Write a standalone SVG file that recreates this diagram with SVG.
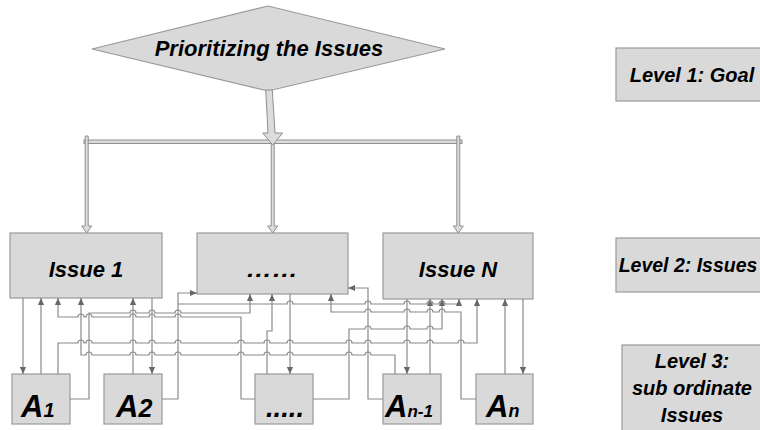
<svg xmlns="http://www.w3.org/2000/svg" width="760" height="430" viewBox="0 0 760 430">
<style>
.box{fill:#d9d9d9;stroke:#9a9a9a;stroke-width:1.2}
.t{font-family:"Liberation Sans",Arial,sans-serif;font-weight:bold;font-style:italic;fill:#000}
.c{fill:none;stroke:#8a8a8a;stroke-width:1.2}
.a{marker-end:url(#ah)}
.hol{fill:#dcdcdc;stroke:#8f8f8f;stroke-width:1}
</style>
<defs>
<marker id="ah" viewBox="0 0 8 8" refX="8" refY="4" markerWidth="7" markerHeight="7" markerUnits="userSpaceOnUse" orient="auto">
<path d="M0,0.5 L8,4 L0,7.5 z" fill="#686868"/>
</marker>
</defs>
<rect width="760" height="430" fill="#fff"/>

<g id="goal">
<polygon class="box" points="92,49 268,6 445,49 268,91"/>
<text class="t" x="269" y="56" font-size="22" text-anchor="middle">Prioritizing the Issues</text>
</g>

<g id="top-arrows">
<rect class="hol" x="84" y="140" width="378" height="3.5"/>
<polygon class="hol" points="85.2,136 88.2,136 88.2,226 91.7,226 86.7,233 81.7,226 85.2,226"/>
<polygon class="hol" points="271.2,136 274.2,136 274.2,226 277.7,226 272.7,233 267.7,226 271.2,226"/>
<polygon class="hol" points="456.8,136 459.8,136 459.8,226 463.3,226 458.3,233 453.3,226 456.8,226"/>
<polygon class="hol" points="265.7,90 272.3,90 275,133 282.7,133 272.7,145 262.7,133 268,133"/>
</g>

<g id="issue1">
<rect class="box" x="10" y="233" width="152" height="65"/>
<text class="t" x="86" y="277" font-size="22" text-anchor="middle">Issue 1</text>
</g>
<g id="issue-mid">
<rect class="box" x="197" y="233" width="151" height="61"/>
<text class="t" x="272" y="277" font-size="22" text-anchor="middle" textLength="52" lengthAdjust="spacingAndGlyphs">……</text>
</g>
<g id="issueN">
<rect class="box" x="383" y="233" width="150" height="66"/>
<text class="t" x="458" y="277" font-size="22" text-anchor="middle">Issue N</text>
</g>

<g id="a1">
<rect class="box" x="12" y="374" width="58" height="50"/>
<text class="t" x="21" y="417"><tspan font-size="31">A</tspan><tspan font-size="20">1</tspan></text>
</g>
<g id="a2">
<rect class="box" x="104" y="374" width="58" height="50"/>
<text class="t" x="116" y="417"><tspan font-size="31">A</tspan><tspan font-size="25">2</tspan></text>
</g>
<g id="a-mid">
<rect class="box" x="255" y="374" width="58" height="50"/>
<text class="t" x="266" y="417" font-size="28" textLength="38" lengthAdjust="spacingAndGlyphs">.....</text>
</g>
<g id="an-1">
<rect class="box" x="383" y="374" width="58" height="50"/>
<text class="t" x="385" y="417"><tspan font-size="31">A</tspan><tspan font-size="17">n-1</tspan></text>
</g>
<g id="an">
<rect class="box" x="476" y="374" width="57" height="50"/>
<text class="t" x="486" y="417"><tspan font-size="31">A</tspan><tspan font-size="18">n</tspan></text>
</g>

<g id="level1">
<rect class="box" x="616" y="48" width="160" height="53"/>
<text class="t" x="692" y="82" font-size="20" text-anchor="middle">Level 1: Goal</text>
</g>
<g id="level2">
<rect class="box" x="616" y="238" width="160" height="54"/>
<text class="t" x="688" y="272" font-size="19.5" text-anchor="middle">Level 2: Issues</text>
</g>
<g id="level3">
<rect class="box" x="622" y="345" width="140" height="100"/>
<text class="t" x="692" y="368" font-size="20" text-anchor="middle">Level 3:</text>
<text class="t" x="692" y="395" font-size="20" text-anchor="middle">sub ordinate</text>
<text class="t" x="692" y="422" font-size="20" text-anchor="middle">Issues</text>
</g>

<g id="connectors">
<path class="c a" d="M23,298 V374"/>
<path class="c a" d="M41,374 V298"/>
<path class="c a" d="M133,374 V298"/>
<path class="c a" d="M152,298 V374"/>
<path class="c a" d="M290,294 V374"/>
<path class="c a" d="M407,299 V374"/>
<path class="c a" d="M430,374 V299"/>
<path class="c a" d="M505,374 V299"/>
<path class="c a" d="M523,299 V374"/>
<path class="c a" d="M58,374 V343 H78 a3,3 0 0 1 6,0 H86 a3,3 0 0 1 6,0 H130 a3,3 0 0 1 6,0 H149 a3,3 0 0 1 6,0 H175 a3,3 0 0 1 6,0 H238 a3,3 0 0 1 6,0 H264 a3,3 0 0 1 6,0 H287 a3,3 0 0 1 6,0 H346 a3,3 0 0 1 6,0 H365 a3,3 0 0 1 6,0 H404 a3,3 0 0 1 6,0 H427 a3,3 0 0 1 6,0 H458 a3,3 0 0 1 6,0 H477 V299"/>
<path class="c a" d="M70,399 H89 V313 H130 a3,3 0 0 1 6,0 H149 a3,3 0 0 1 6,0 H175 a3,3 0 0 1 6,0 H250 V294"/>
<path class="c a" d="M255,399 H241 V317 H181 a3,3 0 0 0 -6,0 H155 a3,3 0 0 0 -6,0 H136 a3,3 0 0 0 -6,0 H92 a3,3 0 0 0 -6,0 H84 a3,3 0 0 0 -6,0 H58 V298"/>
<path class="c a" d="M395,374 V355 H371 a3,3 0 0 0 -6,0 H352 a3,3 0 0 0 -6,0 H293 a3,3 0 0 0 -6,0 H270 a3,3 0 0 0 -6,0 H244 a3,3 0 0 0 -6,0 H181 a3,3 0 0 0 -6,0 H155 a3,3 0 0 0 -6,0 H136 a3,3 0 0 0 -6,0 H92 a3,3 0 0 0 -6,0 H81 V298"/>
<path class="c a" d="M162,399 H178 V293 H197"/>
<path class="c a" d="M178,304 H287 a3,3 0 0 1 6,0 H365 a3,3 0 0 1 6,0 H404 a3,3 0 0 1 6,0 H427 a3,3 0 0 1 6,0 H439 a3,3 0 0 1 6,0 H459 V299"/>
<path class="c a" d="M267,374 V331 H272 V294"/>
<path class="c a" d="M476,399 H461 V312 H445 a3,3 0 0 0 -6,0 H433 a3,3 0 0 0 -6,0 H410 a3,3 0 0 0 -6,0 H371 a3,3 0 0 0 -6,0 H331 V294"/>
<path class="c a" d="M313,399 H349 V329 H365 a3,3 0 0 1 6,0 H404 a3,3 0 0 1 6,0 H427 a3,3 0 0 1 6,0 H442 V299"/>
<path class="c a" d="M383,399 H368 V288 H348"/>
</g>
</svg>
